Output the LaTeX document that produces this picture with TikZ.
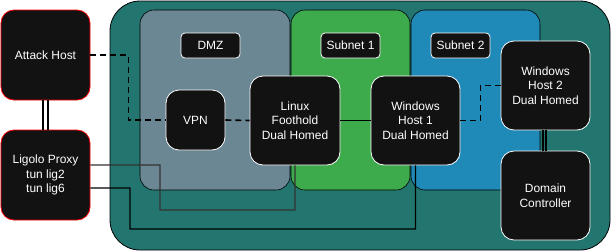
\documentclass[tikz,border=0pt]{standalone}
\usepackage{fontspec}
\setmainfont{Liberation Sans}
\usetikzlibrary{positioning}
\definecolor{netteal}{HTML}{22766F}
\definecolor{dmzgray}{HTML}{6A8793}
\definecolor{subgreen}{HTML}{3DAA4B}
\definecolor{subblue}{HTML}{1F89B7}
\definecolor{boxblack}{HTML}{121212}

\begin{document}
\begin{tikzpicture}[x = 1bp, y = -1bp,
    host/.style={fill=boxblack,draw=white,line width=.8bp,rounded corners=13bp,text=white,align=center,
      inner sep=0pt,minimum width=89bp,minimum height=89bp,font=\fontsize{12}{14.5}\selectfont},
    redhost/.style={host,draw=red},
    tag/.style={fill=boxblack,draw=white,line width=.8bp,rounded corners=4bp,text=white,
      inner sep=0pt,minimum width=59bp,minimum height=25bp,font=\fontsize{12}{14}\selectfont},
    zone/.style={draw=black,line width=.6bp,rounded corners=14bp},
    dashline/.style={line width=1.6bp,dash pattern=on 6bp off 4bp},
    wire/.style={line width=1.3bp}]
    \useasboundingbox (0,0) rectangle (611,251);
    % network and the three zones
    \draw[fill=netteal,line width=.8bp,rounded corners=30bp] (110,1) rectangle (610,250);
    \draw[zone,fill=dmzgray] (140,10) rectangle (290,190);
    \draw[zone,fill=subgreen] (291,10) rectangle (410,190);
    \draw[zone,fill=subblue] (411,10) rectangle (540,190);
    \node[tag] (dmz) at (210.5,45.5) {DMZ};
    \node[tag] (sub1) at (350.5,45.5) {Subnet 1};
    \node[tag] (sub2) at (460.5,45.5) {Subnet 2};

    \node[redhost,minimum height=90bp] (atk) at (45.5,55) {Attack Host};
    \node[redhost,minimum height=90bp] (lig) at (45.5,175) {Ligolo Proxy\\tun lig2\\tun lig6};
    \node[host,minimum width=59bp,minimum height=60bp] (vpn) at (195.5,120) {VPN};
    \node[host,minimum width=90bp] (linux) at (295,120.5) {Linux\\Foothold\\Dual Homed};
    \node[host] (win1) at (415.5,120.5) {Windows\\Host 1\\Dual Homed};
    \node[host] (win2) at (545.5,85.5) {Windows\\Host 2\\Dual Homed};
    \node[host] (dc) at (545.5,195.5) {Domain\\Controller};

    % links
    \draw[wire] ([xshift=-2.5bp]atk.south) -- ([xshift=-2.5bp]lig.north) ([xshift=2.5bp]atk.south) -- ([xshift=2.5bp]lig.north);
    \draw[wire] ([xshift=-2.5bp]win2.south) -- ([xshift=-2.5bp]dc.north) ([xshift=.5bp]win2.south) -- ([xshift=.5bp]dc.north);
    \draw[dashline] (atk.east) -- ++(38,0) |- (vpn.west);
    \draw[dashline] (vpn.east) -- (linux.west);
    \draw[dashline] (win1.east) -- ++(20,0) |- (win2.west);
    \draw[wire] (linux.east) -- (win1.west);
    \draw[wire,draw=black!80] ([yshift=10bp]lig.east) -- (160,165) -- (160,210) -| (linux.south);
    \draw[wire] ([yshift=-13bp]lig.east) -- (130,188) -- (130,229) -| (win1.south);
\end{tikzpicture}
\end{document}
